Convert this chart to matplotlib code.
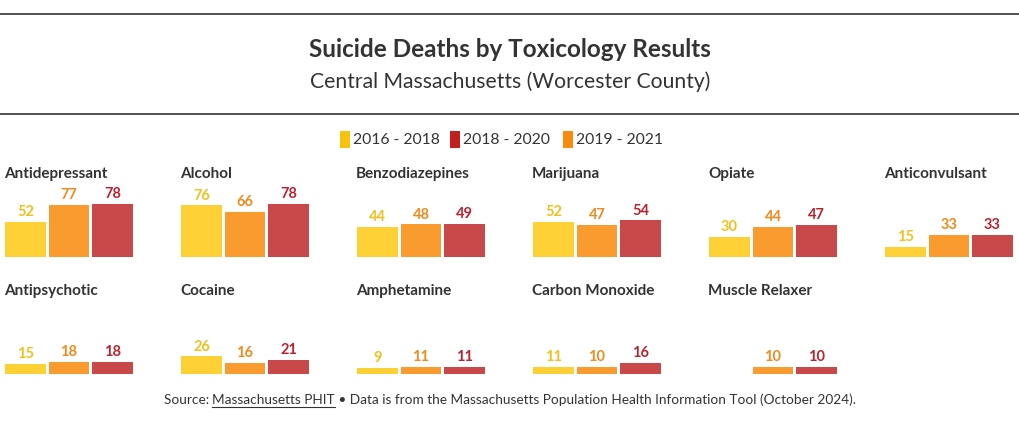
import matplotlib
matplotlib.use("Agg")
import matplotlib.pyplot as plt
from matplotlib.patches import Rectangle
import numpy as np

plt.rcParams['font.family'] = ['Lato', 'DejaVu Sans']

title = "Suicide Deaths by Toxicology Results"
subtitle = "Central Massachusetts (Worcester County)"
series = ["2016 - 2018", "2019 - 2021", "2018 - 2020"]
legend_order = ["2016 - 2018", "2018 - 2020", "2019 - 2021"]
categories_row1 = ["Antidepressant", "Alcohol", "Benzodiazepines", "Marijuana", "Opiate", "Anticonvulsant"]
categories_row2 = ["Antipsychotic", "Cocaine", "Amphetamine", "Carbon Monoxide", "Muscle Relaxer"]
v_2016_2018 = [52, 76, 44, 52, 30, 15, 15, 26, 9, 11, None]
v_2019_2021 = [77, 66, 48, 47, 44, 33, 18, 16, 11, 10, 10]
v_2018_2020 = [78, 78, 49, 54, 47, 33, 18, 21, 11, 16, 10]

bar_colors = {"2016 - 2018": "#FDD035", "2019 - 2021": "#F99B2E", "2018 - 2020": "#C9484A"}
label_colors = {"2016 - 2018": "#F2C01E", "2019 - 2021": "#EF8A1C", "2018 - 2020": "#B52430"}
legend_colors = {"2016 - 2018": "#F7C40D", "2018 - 2020": "#C1201E", "2019 - 2021": "#FA8B0E"}

W, H = 1020, 423
fig = plt.figure(figsize=(W / 100, H / 100), dpi=100)
fig.patch.set_facecolor("white")

ov = fig.add_axes([0, 0, 1, 1])
ov.set_xlim(0, W)
ov.set_ylim(H, 0)
ov.axis("off")

ov.plot([0, W], [14, 14], color="#222222", lw=1.1)
ov.plot([0, W], [114, 114], color="#222222", lw=1.1)
ov.text(510, 49.5, title, ha="center", va="center", fontsize=17.5, fontweight="bold", color="#333333")
ov.text(510, 81.5, subtitle, ha="center", va="center", fontsize=15.2, color="#333333")

# legend
leg_x = [340, 450, 563]
for x, s in zip(leg_x, legend_order):
    ov.add_patch(Rectangle((x, 131), 10, 17, color=legend_colors[s], lw=0))
    ov.text(x + 13, 139.5, s, ha="left", va="center", fontsize=11.3, color="#333333")

all_cats = categories_row1 + categories_row2
values = {"2016 - 2018": v_2016_2018, "2019 - 2021": v_2019_2021, "2018 - 2020": v_2018_2020}

px_per_unit = 0.68
ax_h_units = 100
step_px = 176
for i, cat in enumerate(all_cats):
    row = 0 if i < len(categories_row1) else 1
    col = i if row == 0 else i - len(categories_row1)
    left = 3.75 + col * step_px
    base = 257 if row == 0 else 374
    title_y = 174 if row == 0 else 291
    ov.text(left + 0.5, title_y, cat, ha="left", va="center", fontsize=11,
            fontweight="bold", color="#333333")
    axh = ax_h_units * px_per_unit
    ax = fig.add_axes([left / W, (H - base) / H, 130.5 / W, axh / H])
    ax.set_xlim(-0.5, 2.5)
    ax.set_ylim(0, ax_h_units)
    ax.axis("off")
    for j, s in enumerate(series):
        v = values[s][i]
        if v is None:
            continue
        ax.bar(j, v, width=0.94, color=bar_colors[s], lw=0)
        ax.annotate(str(v), (j, v), xytext=(0, 2), textcoords="offset points",
                    ha="center", va="bottom", fontsize=10.5, fontweight="bold",
                    color=label_colors[s])

# footer with underlined link
renderer = fig.canvas.get_renderer()
fs = 9.8
parts = ["Source: ", "Massachusetts PHIT",
         " \u2022 Data is from the Massachusetts Population Health Information Tool (October 2024)."]
full = ov.text(0, 0, "".join(parts), fontsize=fs, alpha=0)
bb = full.get_window_extent(renderer)
wdata = bb.width * W / fig.bbox.width
x = 510 - wdata / 2
fy = 400
for k, p in enumerate(parts):
    t = ov.text(x, fy, p, ha="left", va="center", fontsize=fs, color="#333333")
    b = t.get_window_extent(renderer)
    pw = b.width * W / fig.bbox.width
    if k == 1:
        ov.plot([x, x + pw], [fy + 7.5, fy + 7.5], color="#333333", lw=0.8)
    x += pw
full.remove()

fig.savefig("out.png", dpi=100, facecolor="white")
